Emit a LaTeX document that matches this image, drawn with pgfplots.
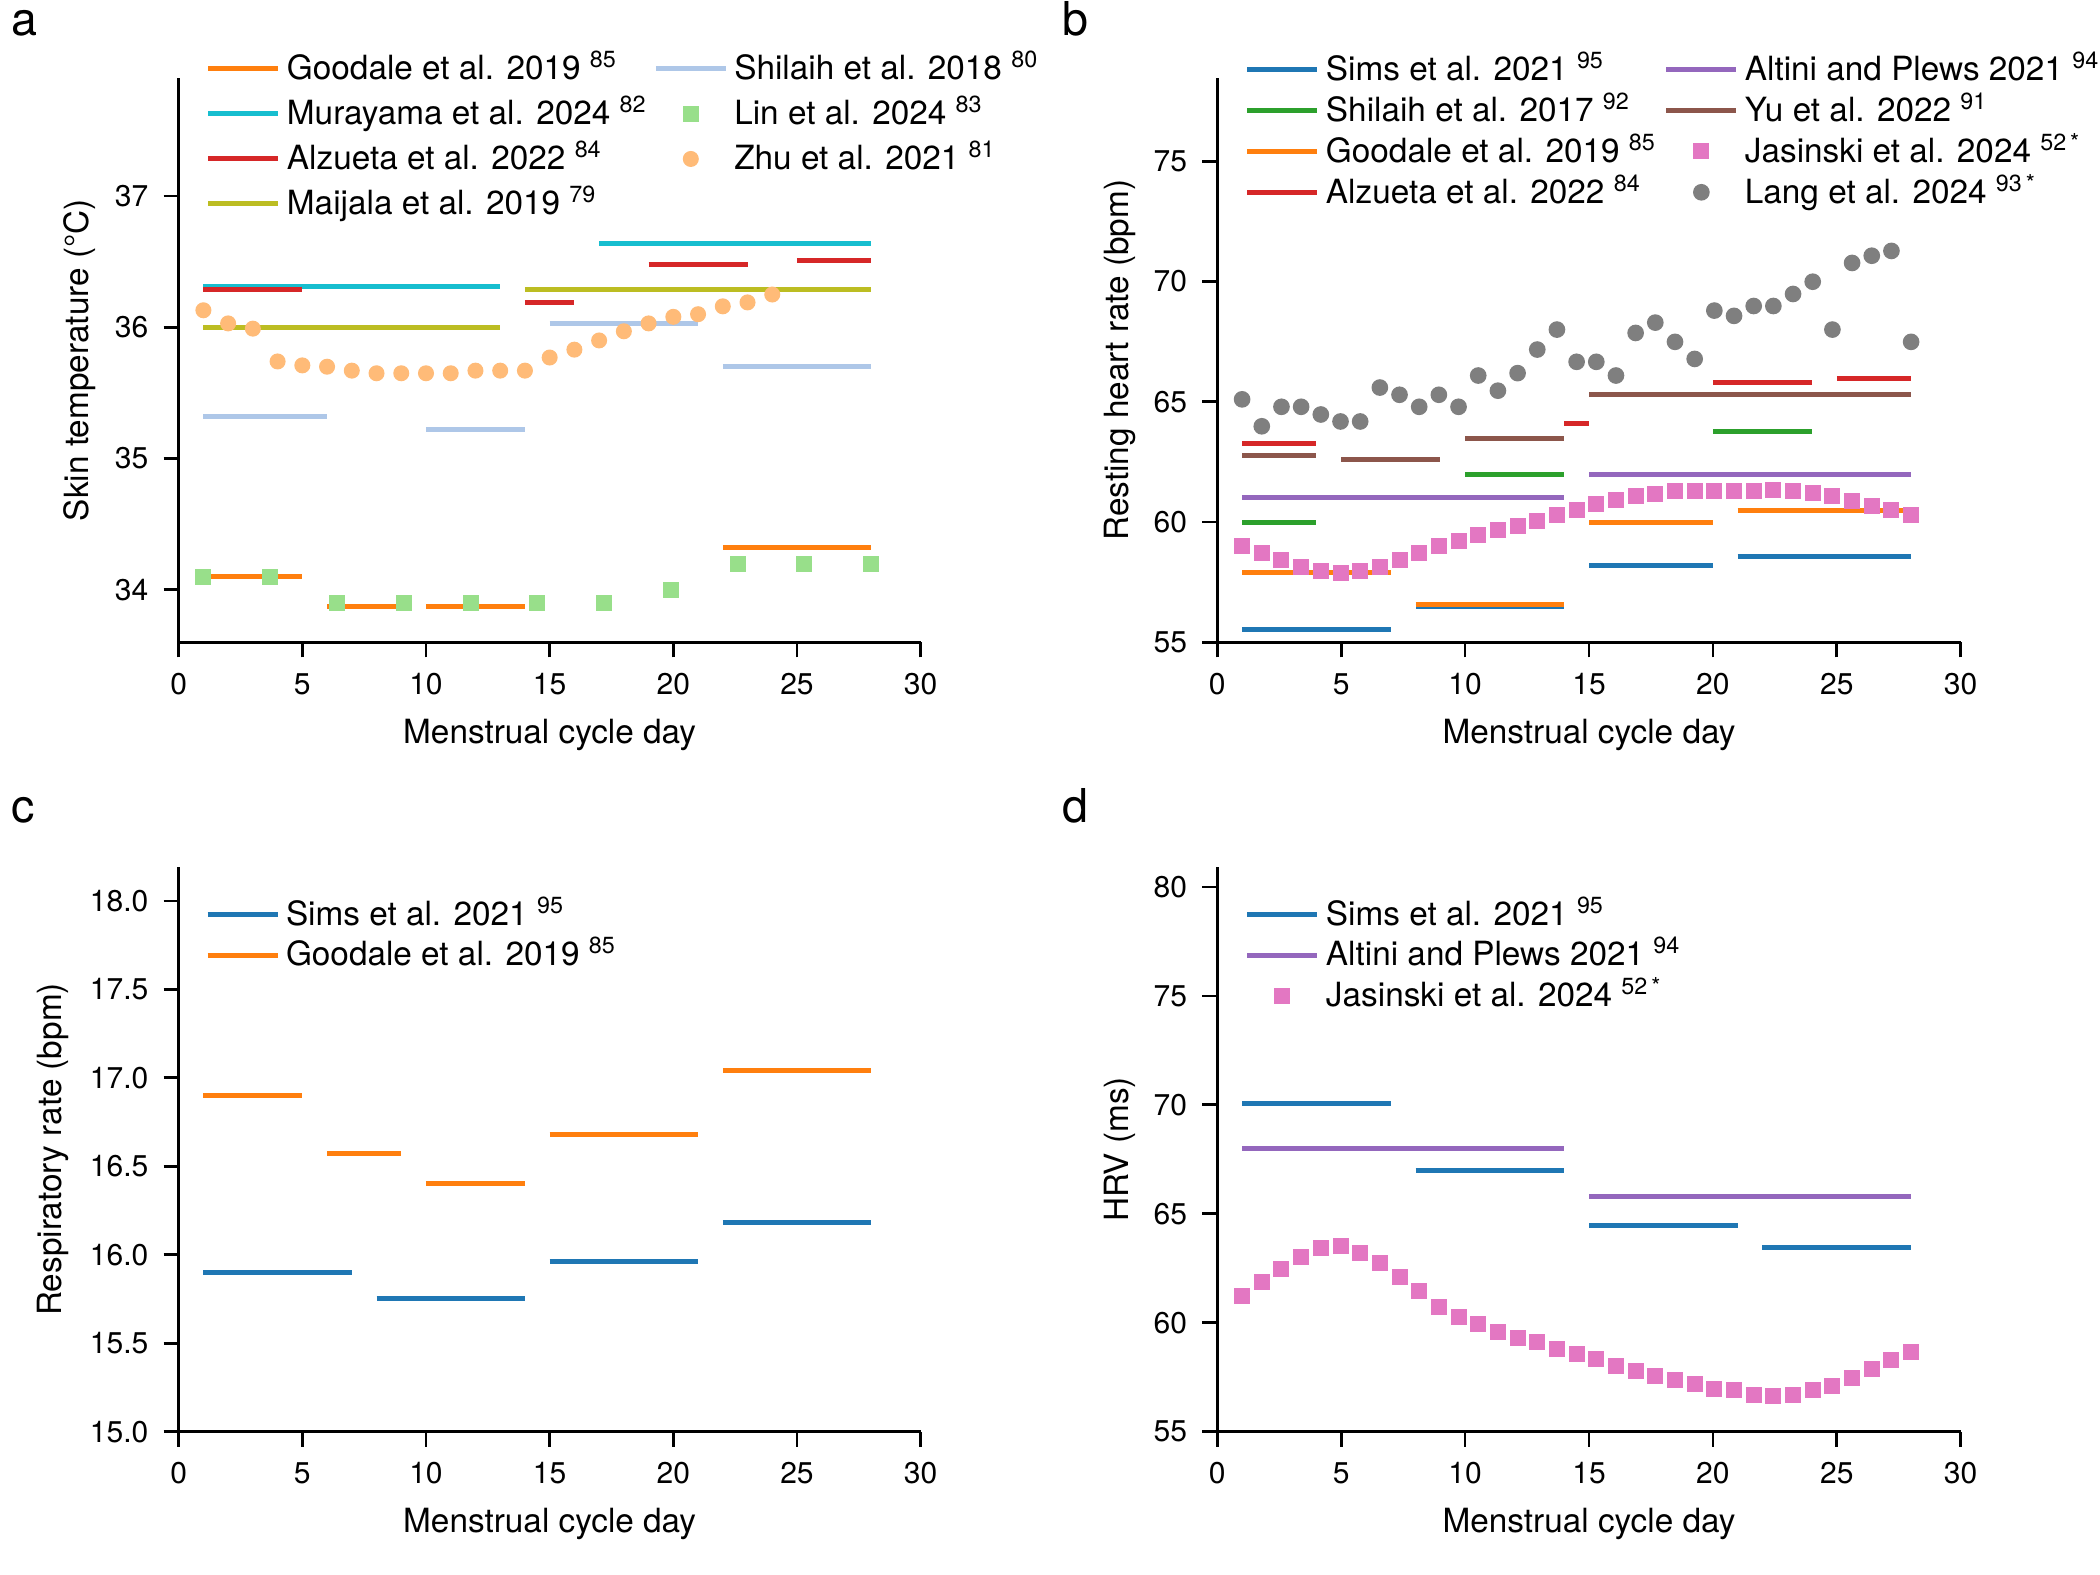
\documentclass[border=0pt]{standalone}
\usepackage{fontspec}
\setmainfont{TeX Gyre Heros}
\usepackage{pgfplots}
\pgfplotsset{compat=1.18}
\definecolor{tabblue}{HTML}{1F77B4}
\definecolor{taborange}{HTML}{FF7F0E}
\definecolor{tabgreen}{HTML}{2CA02C}
\definecolor{tabred}{HTML}{D62728}
\definecolor{tabpurple}{HTML}{9467BD}
\definecolor{tabbrown}{HTML}{8C564B}
\definecolor{tabpink}{HTML}{E377C2}
\definecolor{tabgray}{HTML}{7F7F7F}
\definecolor{tabolive}{HTML}{BCBD22}
\definecolor{tabcyan}{HTML}{17BECF}
\definecolor{ltblue}{HTML}{AEC7E8}
\definecolor{ltgreen}{HTML}{98DF8A}
\definecolor{ltorange}{HTML}{FFBB78}
\pgfplotsset{
  legline/.style={legend image code/.code={\draw[##1, line width=1.5pt] (0pt,0pt) -- (21pt,0pt);}},
  legmark/.style={legend image code/.code={\path (0pt,0pt) (21pt,0pt); \draw[##1] plot coordinates {(10.5pt,0pt)};}},
  seg/.style={line width=1.5pt, no markers, forget plot},
  mk/.style={only marks, mark size=2.2pt, forget plot},
  panel/.style={
    scale only axis, height=169.3pt,
    axis lines=left, axis line style={-, line width=0.8pt},
    tick style={line width=0.8pt, black},
    major tick length=4.5pt, tick align=outside,
    xmin=0, xmax=30, xtick={0,5,...,30},
    tick label style={font=\fontsize{9}{10}\selectfont},
    /pgf/number format/assume math mode=true,
    xticklabel style={anchor=north, inner sep=0pt, yshift=-4.6pt},
    yticklabel style={anchor=east, inner sep=0pt, xshift=-4.4pt},
    xlabel={Menstrual cycle day},
    label style={font=\fontsize{10}{12}\selectfont},
    xlabel style={at={(axis description cs:0.5,-0.179)}, anchor=base},
    unbounded coords=jump,
    legend cell align=left,
    legend style={draw=none, fill=none, inner sep=0pt, outer sep=0pt,
      font=\fontsize{10}{12}\selectfont, anchor=north west,
      nodes={inner sep=0pt, text height=7.5pt, text depth=1pt},
      /tikz/every odd column/.style={column sep=1.8pt}},
  },
}
\begin{document}
\begin{tikzpicture}
\useasboundingbox (0,0) rectangle (630pt,472.5pt);
% ---------------- panel a
\begin{axis}[panel, at={(53.6pt,279.8pt)}, anchor=south west, width=222.6pt,
  ymin=33.6, ymax=37.9, ytick={34,35,36,37},
  ylabel={Skin temperature (°C)},
  ylabel style={at={(axis description cs:-0.134,0.5)}, anchor=center},
  legend columns=2,
  legend style={at={(axis description cs:0.0368,1.0411)}, row sep=5pt,
    /tikz/every even column/.style={column sep=1.8pt}}]
\addplot[seg, taborange] coordinates {(1,34.1)(5,34.1)(5,nan)(6,33.87)(9,33.87)(9,nan)(10,33.875)(14,33.875)(14,nan)(22,34.32)(28,34.32)};
\addplot[seg, tabcyan] coordinates {(1,36.31)(13,36.31)(13,nan)(17,36.64)(28,36.64)};
\addplot[seg, tabred] coordinates {(1,36.29)(5,36.29)(5,nan)(14,36.19)(16,36.19)(16,nan)(19,36.48)(23,36.48)(23,nan)(25,36.51)(28,36.51)};
\addplot[seg, tabolive] coordinates {(1,36.0)(13,36.0)(13,nan)(14,36.29)(28,36.29)};
\addplot[seg, ltblue] coordinates {(1,35.32)(6,35.32)(6,nan)(10,35.22)(14,35.22)(14,nan)(15,36.03)(21,36.03)(21,nan)(22,35.70)(28,35.70)};
\addplot[mk, mark=square*, color=ltgreen] coordinates {(1,34.1)(3.7,34.1)(6.4,33.9)(9.1,33.9)(11.8,33.9)(14.5,33.9)(17.2,33.9)(19.9,34.0)(22.6,34.2)(25.3,34.2)(28,34.2)};
\addplot[mk, mark=*, color=ltorange] coordinates {(1,36.13)(2,36.03)(3,35.99)(4,35.74)(5,35.71)(6,35.70)(7,35.67)(8,35.65)(9,35.65)(10,35.65)(11,35.65)(12,35.67)(13,35.67)(14,35.67)(15,35.77)(16,35.83)(17,35.90)(18,35.97)(19,36.03)(20,36.08)(21,36.10)(22,36.16)(23,36.19)(24,36.25)};
\addlegendimage{legline, color=taborange}\addlegendentry{Goodale et al. 2019 \textsuperscript{85}}
\addlegendimage{legline, color=ltblue}\addlegendentry{Shilaih et al. 2018 \textsuperscript{80}}
\addlegendimage{legline, color=tabcyan}\addlegendentry{Murayama et al. 2024 \textsuperscript{82}}
\addlegendimage{legmark, mark=square*, mark size=2.2pt, color=ltgreen}\addlegendentry{Lin et al. 2024 \textsuperscript{83}}
\addlegendimage{legline, color=tabred}\addlegendentry{Alzueta et al. 2022 \textsuperscript{84}}
\addlegendimage{legmark, mark=*, mark size=2.2pt, color=ltorange}\addlegendentry{Zhu et al. 2021 \textsuperscript{81}}
\addlegendimage{legline, color=tabolive}\addlegendentry{Maijala et al. 2019 \textsuperscript{79}}
\end{axis}
% ---------------- panel b
\begin{axis}[panel, at={(365.2pt,279.8pt)}, anchor=south west, width=223pt,
  ymin=55, ymax=78.46, ytick={55,60,65,70,75},
  ylabel={Resting heart rate (bpm)},
  ylabel style={at={(axis description cs:-0.131,0.5)}, anchor=center},
  legend columns=2,
  legend style={at={(axis description cs:0.0372,1.0405)}, row sep=3.8pt,
    /tikz/every even column/.style={column sep=2.2pt}}]
\addplot[seg, tabblue] coordinates {(1,55.53)(7,55.53)(7,nan)(8,56.47)(14,56.47)(14,nan)(15,58.18)(20,58.18)(20,nan)(21,58.58)(28,58.58)};
\addplot[seg, tabgreen] coordinates {(1,60)(4,60)(4,nan)(10,61.98)(14,61.98)(14,nan)(20,63.78)(24,63.78)};
\addplot[seg, taborange] coordinates {(1,57.89)(7,57.89)(7,nan)(8,56.59)(14,56.59)(14,nan)(15,60.0)(20,60.0)(20,nan)(21,60.49)(28,60.49)};
\addplot[seg, tabred] coordinates {(1,63.27)(4,63.27)(4,nan)(14,64.11)(15,64.11)(15,nan)(20,65.80)(24,65.80)(24,nan)(25,65.97)(28,65.97)};
\addplot[seg, tabpurple] coordinates {(1,61.0)(14,61.0)(14,nan)(15,61.98)(28,61.98)};
\addplot[seg, tabbrown] coordinates {(1,62.77)(4,62.77)(4,nan)(5,62.61)(9,62.61)(9,nan)(10,63.49)(14,63.49)(14,nan)(15,65.30)(28,65.30)};
\addplot[mk, mark=square*, color=tabpink] coordinates {(1.000,59.02)(1.794,58.73)(2.588,58.44)(3.382,58.15)(4.176,57.95)(4.971,57.90)(5.765,57.95)(6.559,58.15)(7.353,58.44)(8.147,58.73)(8.941,59.02)(9.735,59.23)(10.529,59.44)(11.324,59.65)(12.118,59.85)(12.912,60.06)(13.706,60.31)(14.500,60.52)(15.294,60.77)(16.088,60.93)(16.882,61.10)(17.676,61.18)(18.471,61.27)(19.265,61.27)(20.059,61.31)(20.853,61.31)(21.647,61.31)(22.441,61.35)(23.235,61.31)(24.029,61.22)(24.824,61.10)(25.618,60.89)(26.412,60.68)(27.206,60.48)(28.000,60.31)};
\addplot[mk, mark=*, mark size=2.3pt, color=tabgray] coordinates {(1.000,65.10)(1.794,63.98)(2.588,64.79)(3.382,64.79)(4.176,64.47)(4.971,64.18)(5.765,64.18)(6.559,65.59)(7.353,65.29)(8.147,64.79)(8.941,65.29)(9.735,64.79)(10.529,66.09)(11.324,65.46)(12.118,66.19)(12.912,67.17)(13.706,68.00)(14.500,66.66)(15.294,66.66)(16.088,66.09)(16.882,67.86)(17.676,68.29)(18.471,67.49)(19.265,66.78)(20.059,68.79)(20.853,68.57)(21.647,68.98)(22.441,68.98)(23.235,69.48)(24.029,69.99)(24.824,68.00)(25.618,70.77)(26.412,71.07)(27.206,71.27)(28.000,67.49)};
\addlegendimage{legline, color=tabblue}\addlegendentry{Sims et al. 2021 \textsuperscript{95}}
\addlegendimage{legline, color=tabpurple}\addlegendentry{Altini and Plews 2021 \textsuperscript{94}}
\addlegendimage{legline, color=tabgreen}\addlegendentry{Shilaih et al. 2017 \textsuperscript{92}}
\addlegendimage{legline, color=tabbrown}\addlegendentry{Yu et al. 2022 \textsuperscript{91}}
\addlegendimage{legline, color=taborange}\addlegendentry{Goodale et al. 2019 \textsuperscript{85}}
\addlegendimage{legmark, mark=square*, mark size=2.2pt, color=tabpink}\addlegendentry{Jasinski et al. 2024 \textsuperscript{52\,*}}
\addlegendimage{legline, color=tabred}\addlegendentry{Alzueta et al. 2022 \textsuperscript{84}}
\addlegendimage{legmark, mark=*, mark size=2.3pt, color=tabgray}\addlegendentry{Lang et al. 2024 \textsuperscript{93\,*}}
\end{axis}
% ---------------- panel c
\begin{axis}[panel, at={(53.6pt,43.0pt)}, anchor=south west, width=222.6pt,
  ymin=15, ymax=18.19, ytick={15,15.5,...,18},
  yticklabel style={/pgf/number format/.cd, fixed, fixed zerofill, precision=1},
  ylabel={Respiratory rate (bpm)},
  ylabel style={at={(axis description cs:-0.170,0.5)}, anchor=center},
  legend style={at={(axis description cs:0.0355,0.9418)}, row sep=3.75pt}]
\addplot[seg, tabblue] coordinates {(1,15.90)(7,15.90)(7,nan)(8,15.75)(14,15.75)(14,nan)(15,15.96)(21,15.96)(21,nan)(22,16.18)(28,16.18)};
\addplot[seg, taborange] coordinates {(1,16.90)(5,16.90)(5,nan)(6,16.57)(9,16.57)(9,nan)(10,16.40)(14,16.40)(14,nan)(15,16.68)(21,16.68)(21,nan)(22,17.04)(28,17.04)};
\addlegendimage{legline, color=tabblue}\addlegendentry{Sims et al. 2021 \textsuperscript{95}}
\addlegendimage{legline, color=taborange}\addlegendentry{Goodale et al. 2019 \textsuperscript{85}}
\end{axis}
% ---------------- panel d
\begin{axis}[panel, at={(365.2pt,43.0pt)}, anchor=south west, width=223pt,
  ymin=55, ymax=80.9, ytick={55,60,...,80},
  ylabel={HRV (ms)},
  ylabel style={at={(axis description cs:-0.131,0.5)}, anchor=center},
  legend style={at={(axis description cs:0.0372,0.9418)}, row sep=3.75pt}]
\addplot[seg, tabblue] coordinates {(1,70.08)(7,70.08)(7,nan)(8,66.99)(14,66.99)(14,nan)(15,64.48)(21,64.48)(21,nan)(22,63.47)(28,63.47)};
\addplot[seg, tabpurple] coordinates {(1,68.0)(14,68.0)(14,nan)(15,65.77)(28,65.77)};
\addplot[mk, mark=square*, color=tabpink] coordinates {(1.000,61.23)(1.794,61.87)(2.588,62.47)(3.382,63.02)(4.176,63.44)(4.971,63.53)(5.765,63.21)(6.559,62.75)(7.353,62.10)(8.147,61.46)(8.941,60.72)(9.735,60.26)(10.529,59.94)(11.324,59.57)(12.118,59.29)(12.912,59.11)(13.706,58.79)(14.500,58.56)(15.294,58.33)(16.088,58.01)(16.882,57.78)(17.676,57.55)(18.471,57.36)(19.265,57.18)(20.059,56.95)(20.853,56.90)(21.647,56.67)(22.441,56.63)(23.235,56.67)(24.029,56.90)(24.824,57.09)(25.618,57.45)(26.412,57.87)(27.206,58.28)(28.000,58.65)};
\addlegendimage{legline, color=tabblue}\addlegendentry{Sims et al. 2021 \textsuperscript{95}}
\addlegendimage{legline, color=tabpurple}\addlegendentry{Altini and Plews 2021 \textsuperscript{94}}
\addlegendimage{legmark, mark=square*, mark size=2.2pt, color=tabpink}\addlegendentry{Jasinski et al. 2024 \textsuperscript{52\,*}}
\end{axis}
% panel letters
\node[anchor=base west, inner sep=0pt, font=\fontsize{14}{16}\selectfont] at (3.3pt,461.7pt) {a};
\node[anchor=base west, inner sep=0pt, font=\fontsize{14}{16}\selectfont] at (318.6pt,461.7pt) {b};
\node[anchor=base west, inner sep=0pt, font=\fontsize{14}{16}\selectfont] at (3.3pt,225.7pt) {c};
\node[anchor=base west, inner sep=0pt, font=\fontsize{14}{16}\selectfont] at (318.4pt,225.7pt) {d};
\end{tikzpicture}
\end{document}
